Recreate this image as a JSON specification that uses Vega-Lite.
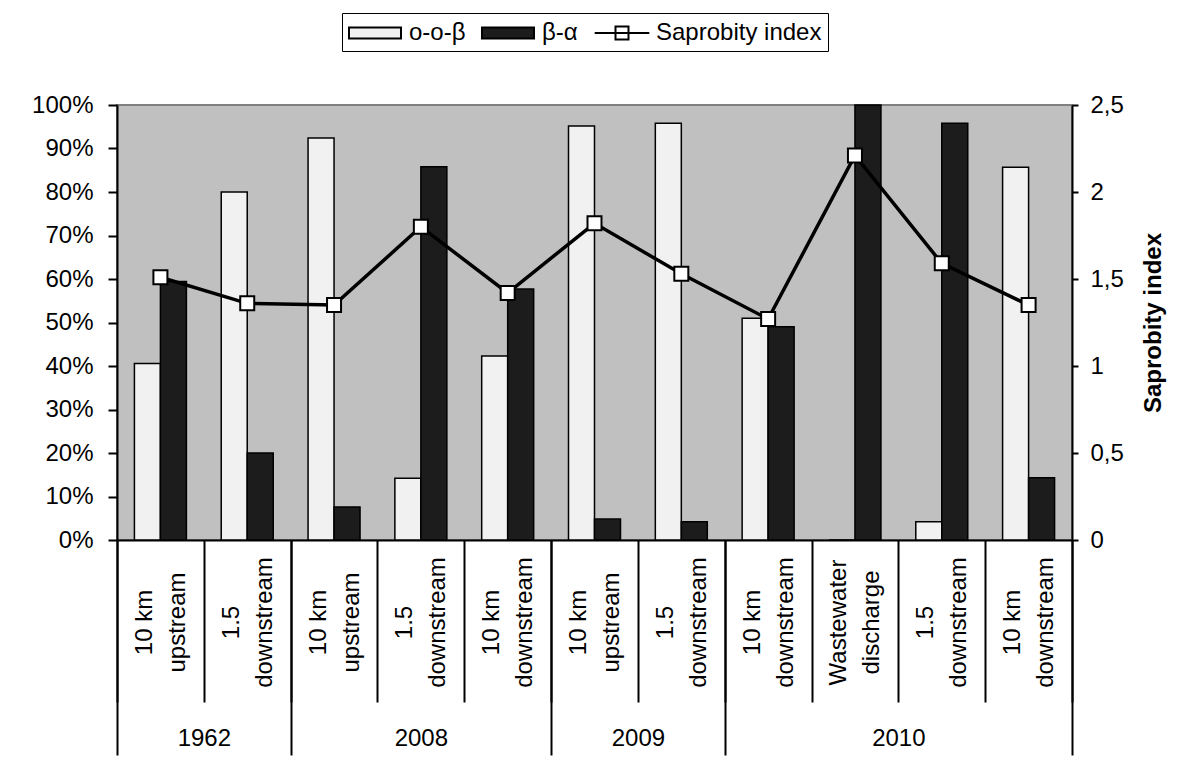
{
  "$schema": "https://vega.github.io/schema/vega-lite/v6.json",
  "width": 955,
  "height": 435,
  "autosize": {"type": "none"},
  "padding": {"left": 117, "top": 105, "right": 118, "bottom": 238},
  "background": "white",
  "config": {
    "font": "Liberation Sans",
    "view": {"fill": "#c0c0c0", "stroke": "#808080", "strokeWidth": 2},
    "axis": {
      "labelFont": "Liberation Sans",
      "labelFontSize": 24,
      "labelColor": "black",
      "titleFont": "Liberation Sans",
      "titleColor": "black",
      "grid": false,
      "domainColor": "black",
      "tickColor": "black",
      "domainWidth": 2,
      "tickWidth": 2
    },
    "legend": {
      "labelFont": "Liberation Sans",
      "labelFontSize": 24,
      "labelColor": "black",
      "symbolSize": 676
    }
  },
  "datasets": {
    "composition": [
      {"year": "1962", "site": "10 km upstream", "series": "o-o-β", "pct": 40.6},
      {"year": "1962", "site": "10 km upstream", "series": "β-α", "pct": 59.4},
      {"year": "1962", "site": "1.5 downstream", "series": "o-o-β", "pct": 80.0},
      {"year": "1962", "site": "1.5 downstream", "series": "β-α", "pct": 20.0},
      {"year": "2008", "site": "10 km upstream", "series": "o-o-β", "pct": 92.4},
      {"year": "2008", "site": "10 km upstream", "series": "β-α", "pct": 7.6},
      {"year": "2008", "site": "1.5 downstream", "series": "o-o-β", "pct": 14.2},
      {"year": "2008", "site": "1.5 downstream", "series": "β-α", "pct": 85.8},
      {"year": "2008", "site": "10 km downstream", "series": "o-o-β", "pct": 42.3},
      {"year": "2008", "site": "10 km downstream", "series": "β-α", "pct": 57.7},
      {"year": "2009", "site": "10 km upstream", "series": "o-o-β", "pct": 95.2},
      {"year": "2009", "site": "10 km upstream", "series": "β-α", "pct": 4.8},
      {"year": "2009", "site": "1.5 downstream", "series": "o-o-β", "pct": 95.8},
      {"year": "2009", "site": "1.5 downstream", "series": "β-α", "pct": 4.2},
      {"year": "2010", "site": "10 km downstream", "series": "o-o-β", "pct": 51.0},
      {"year": "2010", "site": "10 km downstream", "series": "β-α", "pct": 49.0},
      {"year": "2010", "site": "Wastewater discharge", "series": "o-o-β", "pct": 0},
      {"year": "2010", "site": "Wastewater discharge", "series": "β-α", "pct": 100},
      {"year": "2010", "site": "1.5  downstream", "series": "o-o-β", "pct": 4.2},
      {"year": "2010", "site": "1.5  downstream", "series": "β-α", "pct": 95.8},
      {"year": "2010", "site": "10 km  downstream", "series": "o-o-β", "pct": 85.7},
      {"year": "2010", "site": "10 km  downstream", "series": "β-α", "pct": 14.3}
    ],
    "saprobity": [
      {"year": "1962", "site": "10 km upstream", "si": 1.51},
      {"year": "1962", "site": "1.5 downstream", "si": 1.36},
      {"year": "2008", "site": "10 km upstream", "si": 1.35},
      {"year": "2008", "site": "1.5 downstream", "si": 1.8},
      {"year": "2008", "site": "10 km downstream", "si": 1.42},
      {"year": "2009", "site": "10 km upstream", "si": 1.82},
      {"year": "2009", "site": "1.5 downstream", "si": 1.53},
      {"year": "2010", "site": "10 km downstream", "si": 1.27},
      {"year": "2010", "site": "Wastewater discharge", "si": 2.21},
      {"year": "2010", "site": "1.5  downstream", "si": 1.59},
      {"year": "2010", "site": "10 km  downstream", "si": 1.35}
    ]
  },
  "layer": [
    {
      "data": {"name": "composition"},
      "transform": [{"calculate": "datum.year + '|' + datum.site", "as": "sample"}],
      "mark": {"type": "bar", "stroke": "black", "strokeWidth": 1.5},
      "encoding": {
        "x": {
          "field": "sample",
          "type": "nominal",
          "sort": null,
          "scale": {"paddingInner": 0, "paddingOuter": 0},
          "axis": {
            "orient": "bottom",
            "title": null,
            "tickBand": "extent",
            "tickSize": 162,
            "labelAngle": 270,
            "labelAlign": "center",
            "labelBaseline": "middle",
            "labelPadding": -80,
            "labelOffset": -16,
            "labelLineHeight": 33,
            "labelOverlap": false,
            "labelLimit": 400,
            "labelExpr": "isString(datum.value) && indexof(datum.value, '|') >= 0 ? [substring(trim(split(datum.value,'|')[1]), 0, indexof(trim(split(datum.value,'|')[1]), ' ' + peek(split(trim(split(datum.value,'|')[1]), ' ')))), peek(split(trim(split(datum.value,'|')[1]), ' '))] : ''"
          }
        },
        "xOffset": {
          "field": "series",
          "type": "nominal",
          "sort": ["o-o-β", "β-α"],
          "scale": {"paddingInner": 0, "paddingOuter": 0.67}
        },
        "y": {
          "field": "pct",
          "type": "quantitative",
          "scale": {"domain": [0, 100], "nice": false},
          "axis": {
            "orient": "left",
            "title": null,
            "values": [0, 10, 20, 30, 40, 50, 60, 70, 80, 90, 100],
            "labelExpr": "datum.value + '%'",
            "tickSize": 9,
            "labelPadding": 15
          }
        },
        "fill": {
          "field": "series",
          "type": "nominal",
          "scale": {
            "domain": ["o-o-β", "β-α", "Saprobity index"],
            "range": ["#f1f1f1", "#1c1c1c", "white"]
          },
          "legend": {
            "orient": "none",
            "legendX": 225,
            "legendY": -92,
            "direction": "horizontal",
            "title": null,
            "strokeColor": "black",
            "fillColor": "white",
            "padding": 6,
            "labelOffset": 20,
            "symbolOffset": 13,
            "columnPadding": 12,
            "symbolSize": 676,
            "gridAlign": "none",
            "labelLimit": 400,
            "symbolType": {"expr": "datum.value === 'Saprobity index' ? 'M-2.1,0H2.1M-0.5,-0.5H0.5V0.5H-0.5Z' : 'M-2,-0.42H2V0.42H-2Z'"},
            "symbolStrokeColor": "black",
            "symbolStrokeWidth": 2
          }
        }
      }
    },
    {
      "data": {"name": "saprobity"},
      "transform": [{"calculate": "datum.year + '|' + datum.site", "as": "sample"}],
      "mark": {
        "type": "line",
        "color": "black",
        "strokeWidth": 3.5,
        "point": {"shape": "square", "size": 196, "filled": true, "fill": "white", "stroke": "black", "strokeWidth": 2, "opacity": 1}
      },
      "encoding": {
        "x": {
          "field": "sample",
          "type": "nominal",
          "sort": null,
          "scale": {"paddingInner": 0, "paddingOuter": 0},
          "axis": null
        },
        "y": {
          "field": "si",
          "type": "quantitative",
          "scale": {"domain": [0, 2.5], "nice": false},
          "axis": {
            "orient": "right",
            "title": "Saprobity index",
            "titleFontSize": 24,
            "titleFontWeight": "bold",
            "titleAngle": 270,
            "titlePadding": 42,
            "values": [0, 0.5, 1, 1.5, 2, 2.5],
            "labelExpr": "replace(toString(datum.value), '.', ',')",
            "tickSize": 6,
            "labelPadding": 12
          }
        }
      }
    },
    {
      "data": {"name": "saprobity"},
      "transform": [{"window": [{"op": "row_number", "as": "idx"}]}],
      "mark": {"type": "rule", "opacity": 0},
      "encoding": {
        "x": {
          "field": "idx",
          "type": "quantitative",
          "scale": {"domain": [0, 11], "nice": false, "zero": false},
          "axis": {
            "orient": "bottom",
            "values": [0, 2, 5, 7, 11],
            "tickSize": 215,
            "labels": false,
            "domain": false,
            "grid": false,
            "title": null
          }
        }
      }
    },
    {
      "data": {"name": "saprobity"},
      "transform": [{"window": [{"op": "row_number", "as": "idx"}]}],
      "mark": {"type": "rule", "opacity": 0},
      "encoding": {
        "x": {
          "field": "idx",
          "type": "quantitative",
          "scale": {"domain": [0, 11], "nice": false, "zero": false},
          "axis": {
            "orient": "bottom",
            "values": [1, 3.5, 6, 9],
            "ticks": false,
            "domain": false,
            "grid": false,
            "title": null,
            "labelBaseline": "middle",
            "labelPadding": 198,
            "labelExpr": "datum.value == 1 ? '1962' : datum.value == 3.5 ? '2008' : datum.value == 6 ? '2009' : '2010'"
          }
        }
      }
    }
  ],
  "resolve": {"scale": {"x": "independent", "y": "independent"}}
}
